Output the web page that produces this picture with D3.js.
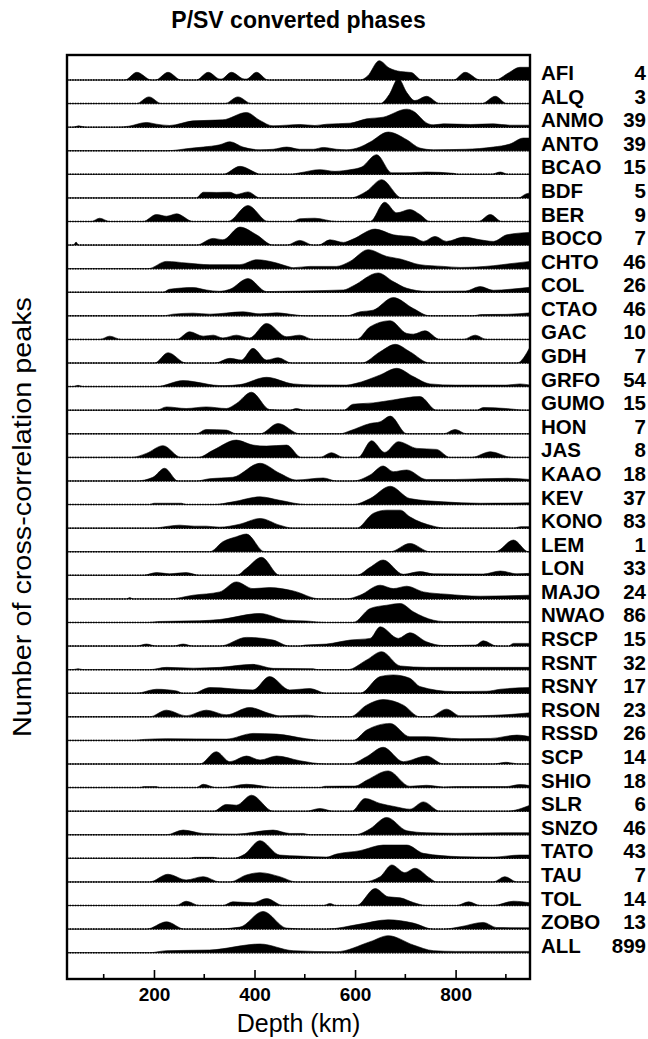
<!DOCTYPE html>
<html>
<head>
<meta charset="utf-8">
<script src="https://cdn.jsdelivr.net/npm/d3@7"></script>
<style>
  html, body { margin: 0; padding: 0; background: #fff; }
  text { font-family: "Liberation Sans", Arial, Helvetica, sans-serif; fill: #000; }
</style>
</head>
<body>
<svg id="chart" width="648" height="1039"></svg>
<script>
// Stations (top to bottom) and the number of events stacked for each.
const stations = ["AFI","ALQ","ANMO","ANTO","BCAO","BDF","BER","BOCO","CHTO","COL",
  "CTAO","GAC","GDH","GRFO","GUMO","HON","JAS","KAAO","KEV","KONO",
  "LEM","LON","MAJO","NWAO","RSCP","RSNT","RSNY","RSON","RSSD","SCP",
  "SHIO","SLR","SNZO","TATO","TAU","TOL","ZOBO","ALL"];
const counts = [4,3,39,39,15,5,9,7,46,26,46,10,7,54,15,7,8,18,37,83,
  1,33,24,86,15,32,17,23,26,14,18,6,46,43,7,14,13,899];

const depthTicks = [200, 400, 600, 800];
const minorDepthTicks = [100, 300, 500, 700, 900];
const depthDomain = [27, 948];

// Peak density versus depth for each station: [depth (km), relative density].
const profiles = [
  /* AFI */  [[27,0],[142,0],[166,7.7],[195,0],[203,0],[228,7.7],[254,0],[284,0],[308,7.7],[331,1],[334,1],[354,7.7],[380,1],[384,1],[404,7.7],[427,0],[610,0],[625,4],[648,19.3],[668,12],[690,8.5],[712,7.5],[733,0],[796,0],[819,7.7],[849,0],[879,0],[905,7],[928,12.7],[948,12.7]],
  /* ALQ */  [[27,0],[165,0],[190,6.7],[215,0],[341,0],[367,6.7],[394,0],[650,0],[668,9],[686,25],[703,11],[719,3],[742,7.3],[769,0],[852,0],[879,7.3],[902,0],[948,0]],
  /* ANMO */ [[27,0],[39,0],[50,1.3],[65,0],[125,0],[150,1],[185,4.7],[205,3],[231,1.7],[278,6.3],[337,7.3],[384,14.7],[410,7],[437,1.3],[490,2.7],[520,1.7],[544,3],[590,4],[623,8.3],[656,10],[703,18],[716,16],[743,4],[756,2.3],[776,3.3],[830,2.7],[875,3.3],[908,2],[948,2]],
  /* ANTO */ [[27,0],[225,0],[250,1],[264,2],[298,3.7],[331,6],[351,9],[377,3.7],[411,1],[437,1.5],[464,3.7],[490,1.5],[517,1.5],[537,3.3],[563,1.5],[583,1],[610,3.7],[630,8.7],[666,18.7],[703,11],[729,2.7],[756,1],[820,1.5],[875,3.7],[908,6.7],[935,12.7],[948,12.7]],
  /* BCAO */ [[27,0],[337,0],[371,8],[404,1.3],[411,0],[470,0],[490,1.5],[530,4.7],[560,3],[577,3.7],[595,5],[613,7.3],[643,19.7],[673,1.5],[700,1.5],[742,2.3],[796,1],[805,0],[870,0],[889,2.3],[905,0],[948,0]],
  /* BDF */  [[27,0],[284,0],[298,5.7],[325,5.5],[351,5.7],[364,3.5],[387,6],[411,0],[590,0],[623,6.7],[653,18.3],[693,0],[925,0],[940,4],[948,5]],
  /* BER */  [[27,0],[75,0],[92,3.3],[112,0],[178,0],[205,7],[225,5.3],[245,7.7],[278,0],[347,0],[387,16],[427,0],[477,0],[490,2.7],[520,3.3],[563,0],[630,0],[659,19.3],[683,8.7],[709,12],[729,7],[749,0],[845,0],[869,7],[892,0],[948,0]],
  /* BOCO */ [[27,0],[40,0],[45,3],[50,0],[284,0],[318,6.7],[337,5.3],[371,18],[404,10.3],[437,0],[464,0],[490,4.7],[517,0],[527,0],[550,5.3],[577,2.7],[596,6],[640,16],[676,10.3],[716,8],[736,3.7],[759,8.7],[782,3.7],[816,8],[849,5.3],[875,3.7],[902,10.3],[948,12.7]],
  /* CHTO */ [[27,0],[188,0],[225,7.3],[264,5.7],[311,4],[371,4],[404,9],[444,5.7],[470,1.7],[477,1],[510,2.3],[563,2.3],[590,7.3],[626,19],[663,12.3],[690,9.7],[729,4],[776,2.3],[809,1.3],[875,3],[908,5],[948,7.3]],
  /* COL */  [[27,0],[218,0],[231,3],[278,4.7],[304,2.3],[330,1],[351,3],[387,13.7],[424,0.7],[460,1],[577,2.3],[596,6.3],[646,19.3],[676,10.7],[703,4],[742,1],[820,1.3],[849,5.7],[875,2],[908,3],[948,5]],
  /* CTAO */ [[27,0],[218,0],[238,1.7],[278,2.7],[311,1.7],[377,4],[411,2],[444,3],[480,1],[503,0],[583,0],[610,4],[636,5.7],[676,18.3],[716,7.3],[749,0],[835,0],[850,1.3],[900,1.5],[948,3]],
  /* GAC */  [[27,0],[92,0],[112,3.3],[135,0],[245,0],[271,7.7],[298,3.3],[318,4.3],[337,1.5],[364,4.3],[390,1.5],[424,16],[464,2.7],[490,4.3],[517,0],[603,0],[630,12.7],[670,18.7],[703,6],[716,5.3],[739,8.7],[769,0],[815,0],[839,4.3],[862,0],[948,0]],
  /* GDH */  [[27,0],[201,0],[228,10.3],[264,0],[321,0],[351,4.7],[374,3],[397,14.7],[424,3],[447,5.3],[474,0],[613,0],[650,11.3],[680,18.7],[709,11.3],[749,0],[922,0],[948,16]],
  /* GRFO */ [[27,0],[39,0],[49,1.3],[59,0],[205,0],[258,6],[298,3.3],[318,1.5],[340,1],[371,2],[424,9.3],[477,2.7],[517,1.7],[583,1.5],[600,3],[650,11.7],[683,18.3],[716,10],[749,2.7],[800,1.5],[900,1.5],[928,2.7],[948,1.5]],
  /* GUMO */ [[27,0],[205,0],[225,3.3],[264,1.7],[304,3.3],[344,1.7],[364,6.7],[394,18],[430,0.7],[460,0],[470,0],[483,1.7],[500,0],[577,0],[596,6],[636,7.3],[676,10.3],[729,13.7],[762,0],[842,0],[855,2.7],[900,1.7],[942,0],[948,0]],
  /* HON */  [[27,0],[284,0],[304,4.3],[344,3.7],[364,0],[411,0],[447,10.3],[490,0],[570,0],[590,3],[630,10.3],[650,12],[670,17.7],[703,0],[776,0],[799,4.3],[822,0],[948,0]],
  /* JAS */  [[27,0],[155,0],[185,4],[218,11.7],[254,0],[288,0],[318,7.3],[364,17.3],[397,12.3],[424,11.3],[464,12.3],[493,0],[530,0],[553,4.7],[577,0],[606,0],[633,16.7],[659,5],[686,15.7],[723,9],[762,8],[789,0],[832,0],[869,5.7],[912,0],[948,0]],
  /* KAAO */ [[27,0],[165,0],[198,3.7],[221,12.7],[248,0],[284,0],[311,2.3],[357,3.7],[411,17.7],[450,7.7],[483,1],[537,3],[563,0],[596,0],[630,6],[656,15],[676,9.3],[703,11],[742,1.5],[800,1.5],[902,2.7],[948,1.5]],
  /* KEV */  [[27,0],[191,0],[200,1.3],[255,1.3],[264,0],[318,0],[357,2.7],[411,7.7],[450,4.3],[503,0],[596,0],[630,6],[670,18.3],[709,6],[776,2.7],[849,1.3],[948,1.7]],
  /* KONO */ [[27,0],[198,0],[230,2],[251,3],[280,2],[304,2],[330,1],[371,4],[411,9.7],[450,3],[477,0],[603,0],[636,14.7],[663,18],[690,18],[709,11.3],[756,2],[780,0],[915,0],[930,1.5],[948,1.5]],
  /* LEM */  [[27,0],[311,0],[337,10],[364,15],[384,17.7],[420,0],[670,0],[709,8.3],[749,0],[879,0],[915,11.7],[945,0],[948,0]],
  /* LON */  [[27,0],[178,0],[205,2.7],[231,1.5],[264,2.7],[291,0],[364,0],[384,7],[414,18],[450,0],[603,0],[630,8],[656,15.3],[696,1],[729,3.7],[756,1.5],[855,1.3],[889,4.3],[922,1.5],[948,2]],
  /* MAJO */ [[27,0],[145,0],[152,1.3],[158,0],[231,0],[278,3.7],[331,7],[364,17],[397,10.3],[430,11.3],[477,8],[530,0],[583,0],[610,3.7],[650,13.7],[676,10.3],[703,12.7],[736,7],[782,4.7],[849,2.7],[948,3.7]],
  /* NWAO */ [[27,0],[188,0],[210,1],[291,1.7],[331,3],[411,9],[464,2.3],[503,1.5],[543,0],[596,0],[630,14],[663,17.3],[690,19],[716,10.7],[756,2.3],[776,1],[948,1]],
  /* RSCP */ [[27,0],[165,0],[185,2],[205,0],[238,0],[258,2],[278,0],[331,0],[384,8.7],[437,6],[470,0],[490,0],[500,1],[543,2],[590,6],[630,7.7],[650,19.3],[686,7.7],[709,13.3],[742,4.3],[776,0.5],[840,1],[855,5.3],[882,0],[905,0],[915,2.7],[948,2.7]],
  /* RSNT */ [[27,0],[39,0],[49,1],[59,0],[191,0],[225,2.3],[278,1.5],[331,2.3],[397,5.3],[437,1.3],[517,1],[525,0],[585,0],[623,9.7],[653,18],[690,3.7],[742,2.3],[862,2.3],[948,2.3]],
  /* RSNY */ [[27,0],[165,0],[205,4],[245,2.3],[258,0],[278,0],[311,5.7],[397,3.3],[430,16.7],[470,3.3],[510,4.7],[543,0],[610,0],[650,16.7],[676,18.3],[709,15],[729,6.7],[796,1.7],[862,2],[889,4],[948,5.7]],
  /* RSON */ [[27,0],[191,0],[225,6.7],[264,1],[304,6.7],[344,2],[390,9.3],[430,3.3],[450,1],[503,1.7],[537,0],[590,0],[623,11.7],[656,17.3],[696,11.7],[729,0],[749,0],[782,7.7],[809,1],[875,1.5],[948,4]],
  /* RSSD */ [[27,0],[158,0],[180,1],[225,1.7],[344,1.3],[397,7],[444,6.3],[503,1.7],[537,0],[596,0],[623,10.3],[670,17],[709,3.7],[742,3.7],[809,1.7],[870,2],[922,5.3],[948,3.7]],
  /* SCP */  [[27,0],[291,0],[324,12.3],[351,2.3],[384,8],[411,4],[444,8],[490,3.3],[543,0],[590,0],[623,7.3],[656,16.7],[696,2.3],[742,8],[776,0],[875,0],[900,1.7],[928,0],[948,0]],
  /* SHIO */ [[27,0],[171,0],[180,1],[205,1],[211,0],[284,0],[298,3.3],[324,0],[337,0],[384,3.3],[444,0],[530,0],[540,1.3],[600,1.5],[623,7.3],[666,16.7],[709,1.3],[742,2.3],[776,0.7],[800,1],[900,1],[928,3],[948,2]],
  /* SLR */  [[27,0],[318,0],[344,6.7],[364,6],[394,16],[437,0],[503,0],[530,2.7],[557,0],[593,0],[620,12.7],[650,7.7],[680,4.5],[709,2],[736,9.3],[769,0],[902,0],[948,6]],
  /* SNZO */ [[27,0],[225,0],[258,4.7],[298,1.3],[364,0.7],[437,4.7],[470,1.3],[497,1.3],[510,0],[600,0],[610,1],[630,6],[663,17.3],[703,4],[742,2],[800,1.5],[895,2],[948,2]],
  /* TATO */ [[27,0],[271,0],[280,1],[318,1],[330,0],[357,0],[380,4],[411,17.7],[450,3.3],[490,2.3],[543,1.3],[563,4.3],[610,7.7],[656,13.3],[703,13.3],[736,5],[809,1.7],[875,1.3],[928,3.3],[948,3.3]],
  /* TAU */  [[27,0],[191,0],[228,7.7],[264,2],[298,5.3],[331,0],[351,0],[384,7],[411,9.3],[450,5.3],[483,0],[616,0],[650,5.3],[673,17],[699,9.3],[719,13.7],[749,3.7],[762,0],[875,0],[898,5.3],[922,0],[948,0]],
  /* TOL */  [[27,0],[244,0],[264,4.3],[291,0],[337,0],[357,3.7],[397,2.7],[424,7],[457,0],[537,0],[550,2],[563,0],[603,0],[640,17],[666,8.7],[690,7.7],[716,3],[742,0],[802,0],[826,3.7],[849,0],[875,0],[915,4.3],[948,2.7]],
  /* ZOBO */ [[27,0],[185,0],[225,7.3],[261,0],[318,0],[371,2],[417,17.7],[464,1],[510,0],[543,0],[610,5],[666,9.3],[716,6],[756,0],[776,0],[809,2.3],[855,6.7],[882,1.5],[948,1.3]],
  /* ALL */  [[27,0],[191,0],[225,2],[311,2.7],[411,8.7],[477,2],[563,1],[630,11],[666,17],[716,7.7],[756,2],[800,1.3],[948,1.3]]
];

const svg = d3.select("#chart");
const margin = { left: 67, right: 118, top: 55, bottom: 60 };
const width = 648, height = 1039;
const plotLeft = margin.left, plotRight = width - margin.right;
const plotTop = margin.top, plotBottom = height - margin.bottom;

const x = d3.scaleLinear().domain(depthDomain).range([plotLeft, plotRight]);
const y = d3.scalePoint().domain(stations).range([80, 952.7]);
const amp = d3.scaleLinear().domain([0, 20]).range([0, 20]);

// Title
svg.append("text")
  .attr("x", (plotLeft + plotRight) / 2)
  .attr("y", 28)
  .attr("text-anchor", "middle")
  .attr("font-size", 23)
  .attr("font-weight", "bold")
  .text("P/SV converted phases");

const plot = svg.append("g");

// Dotted zero line for every station
plot.append("g").selectAll("line")
  .data(stations)
  .join("line")
  .attr("x1", plotLeft).attr("x2", plotRight)
  .attr("y1", d => y(d)).attr("y2", d => y(d))
  .attr("stroke", "#000")
  .attr("stroke-width", 1.5)
  .attr("stroke-dasharray", "1.5,1.1");

// Filled density traces
const area = d3.area()
  .x(d => x(d[0]))
  .y0(0)
  .y1(d => -amp(d[1]))
  .curve(d3.curveMonotoneX);

plot.append("g").selectAll("path")
  .data(stations)
  .join("path")
  .attr("transform", d => `translate(0,${y(d)})`)
  .attr("d", (d, i) => area(profiles[i]))
  .attr("fill", "#000")
  .attr("stroke", "#000")
  .attr("stroke-width", 0.6);

// Frame
svg.append("rect")
  .attr("x", plotLeft).attr("y", plotTop)
  .attr("width", plotRight - plotLeft).attr("height", plotBottom - plotTop)
  .attr("fill", "none").attr("stroke", "#000").attr("stroke-width", 2.4);

// Depth axis: ticks pointing into the frame
const xAxis = svg.append("g").attr("transform", `translate(0,${plotBottom})`);
xAxis.call(d3.axisBottom(x).tickValues(depthTicks).tickSize(-9).tickPadding(9).tickFormat(d3.format("d")))
  .call(g => g.select(".domain").remove())
  .call(g => g.selectAll(".tick line").attr("stroke-width", 1.6))
  .call(g => g.selectAll(".tick text")
      .attr("font-size", 19).attr("font-weight", "bold")
      .attr("font-family", "'Liberation Sans', Arial, sans-serif").attr("fill", "#000"));
xAxis.selectAll(".minor")
  .data(minorDepthTicks)
  .join("line")
  .attr("class", "minor")
  .attr("x1", d => x(d)).attr("x2", d => x(d))
  .attr("y1", 0).attr("y2", -5)
  .attr("stroke", "#000").attr("stroke-width", 1.6);

// Axis titles
svg.append("text")
  .attr("x", (plotLeft + plotRight) / 2)
  .attr("y", 1032)
  .attr("text-anchor", "middle")
  .attr("font-size", 25)
  .text("Depth (km)");

svg.append("text")
  .attr("transform", `translate(31,${(plotTop + plotBottom) / 2}) rotate(-90)`)
  .attr("text-anchor", "middle")
  .attr("font-size", 26)
  .attr("textLength", 440)
  .attr("lengthAdjust", "spacingAndGlyphs")
  .text("Number of cross-correlation peaks");

// Station names and event counts
const labels = svg.append("g");
labels.selectAll(".name")
  .data(stations)
  .join("text")
  .attr("class", "name")
  .attr("x", 541)
  .attr("y", d => y(d))
  .attr("font-size", 20.5)
  .attr("font-weight", "bold")
  .text(d => d);
labels.selectAll(".count")
  .data(stations)
  .join("text")
  .attr("class", "count")
  .attr("x", 646)
  .attr("y", d => y(d))
  .attr("text-anchor", "end")
  .attr("font-size", 20.5)
  .attr("font-weight", "bold")
  .text((d, i) => counts[i]);
</script>
</body>
</html>
